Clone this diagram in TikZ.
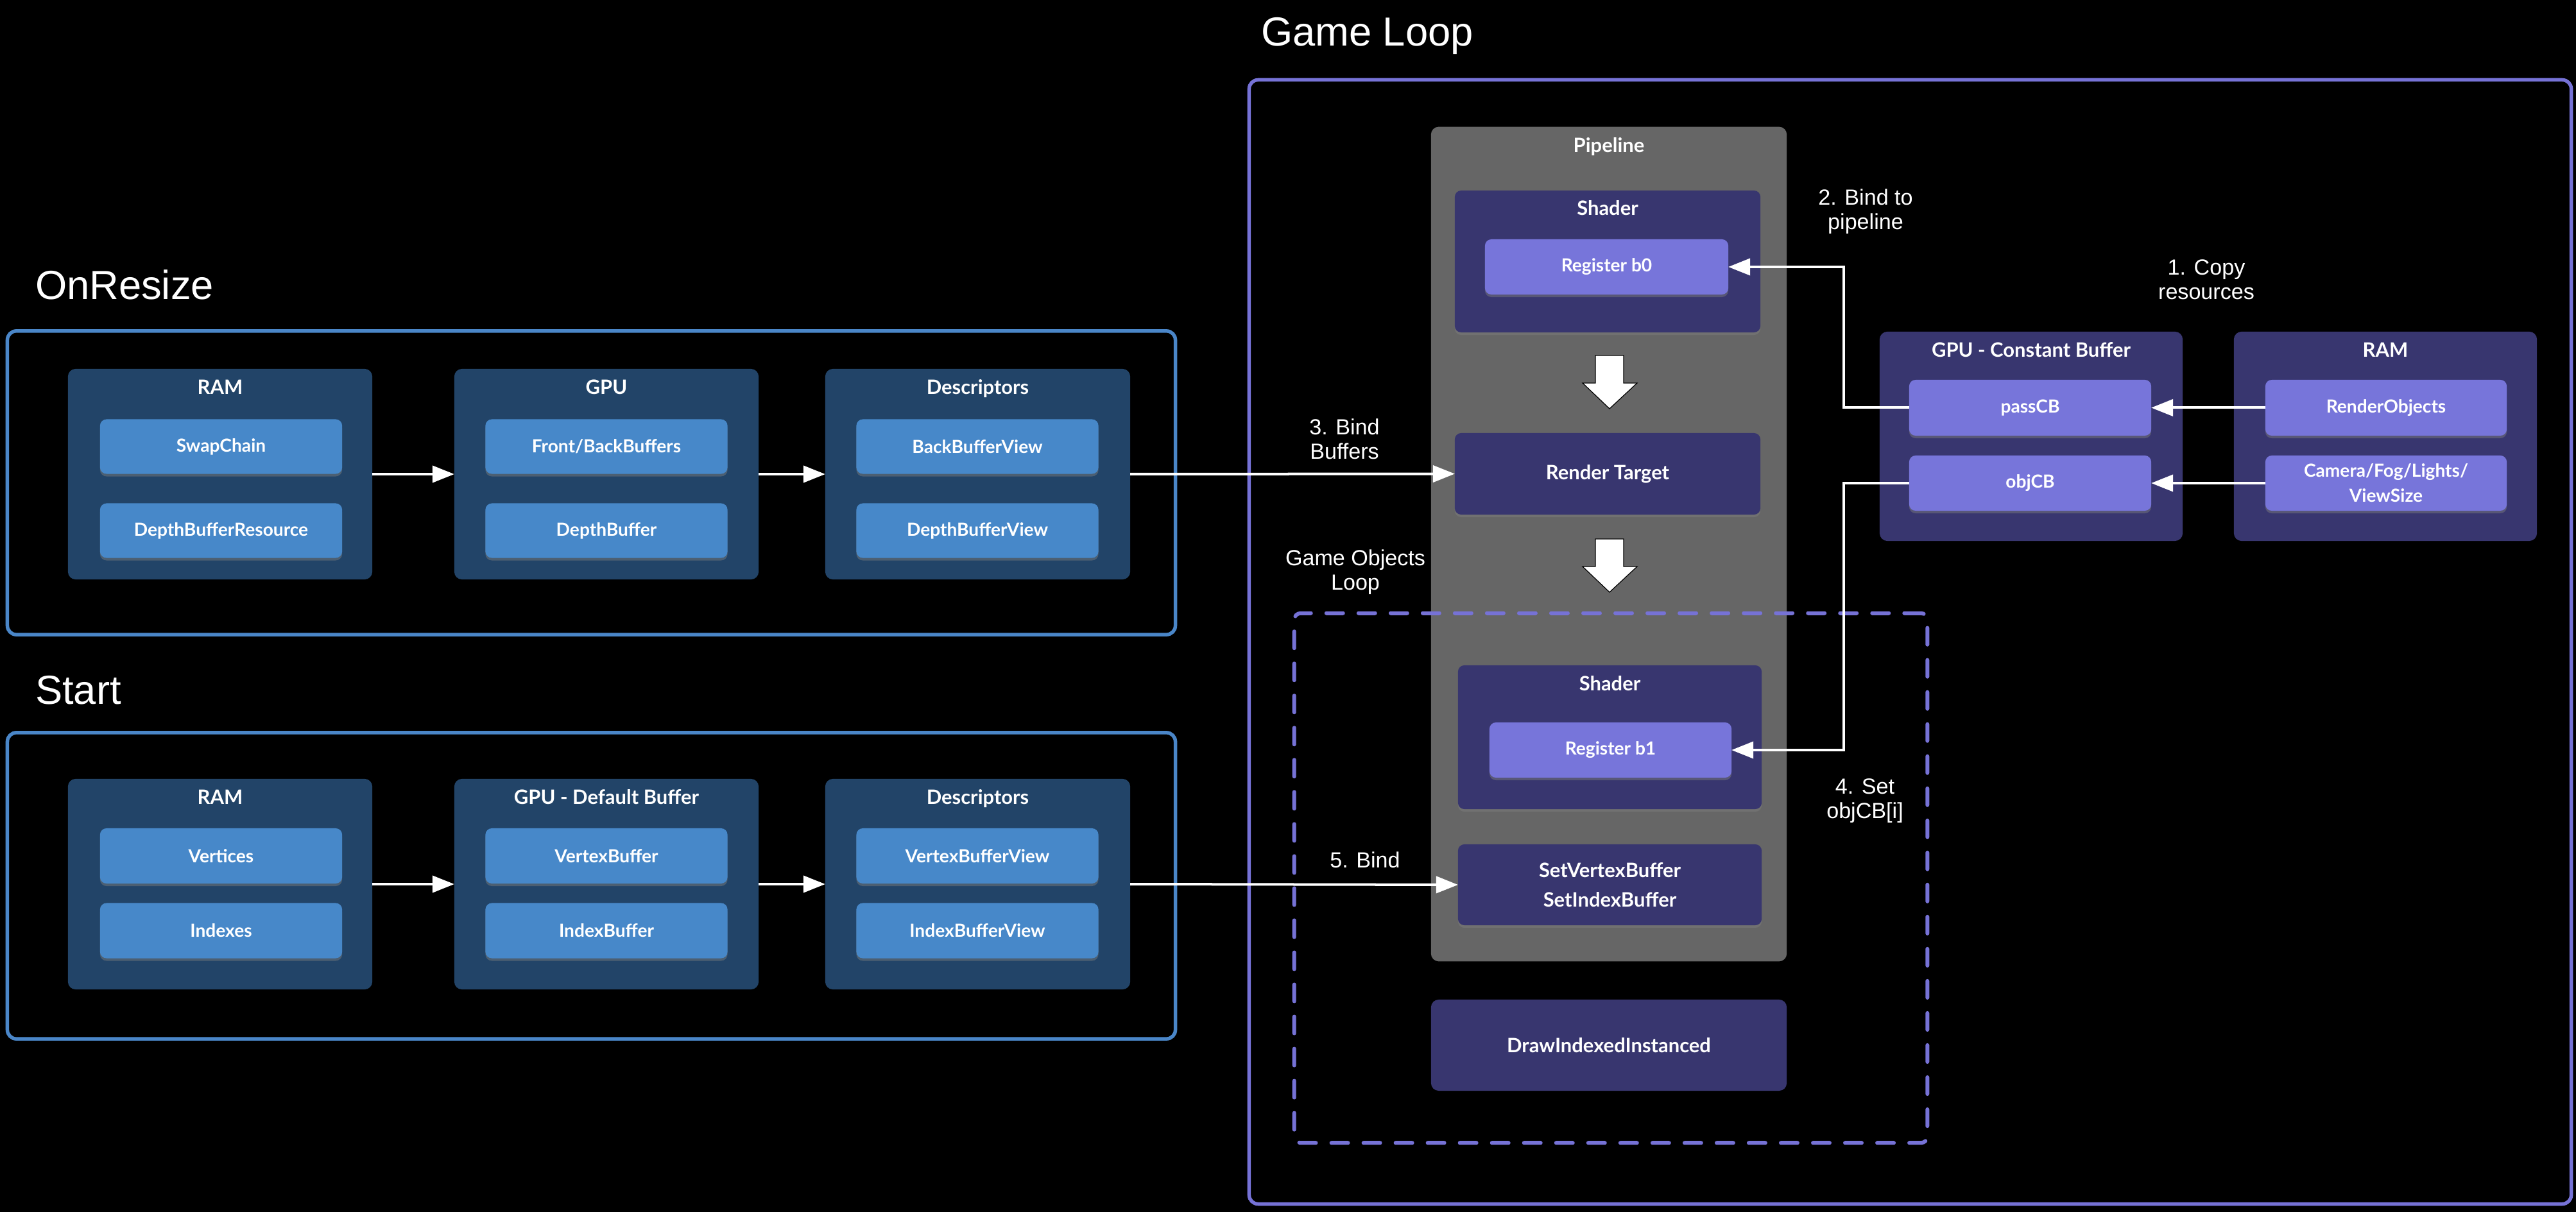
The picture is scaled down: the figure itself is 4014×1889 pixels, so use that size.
\documentclass[tikz,border=0pt]{standalone}
\usepackage{fontspec}
\setmainfont{Liberation Sans}
\newfontfamily\boxfont{Lato}
\usetikzlibrary{arrows.meta,shadows,calc}
\definecolor{bluegrp}{HTML}{224468}
\definecolor{bluebox}{HTML}{4788C9}
\definecolor{blueline}{HTML}{4A86C8}
\definecolor{purpline}{HTML}{7672D6}
\definecolor{purpgrp}{HTML}{38366F}
\definecolor{purpbox}{HTML}{7775DA}
\definecolor{pipegray}{HTML}{666666}
\begin{document}
\begin{tikzpicture}[x=0.01cm,y=-0.01cm,
  every node/.style={inner sep=0pt, outer sep=0pt, text=white},
  frame/.style={draw=#1, line width=0.055cm, rounded corners=0.14cm},
  grp/.style={fill=#1, rounded corners=0.12cm},
  ibox/.style={fill=#1, rounded corners=0.1cm,
    drop shadow={shadow xshift=0cm, shadow yshift=-0.04cm, opacity=0.45},
    font=\boxfont\bfseries\fontsize{8}{11}\selectfont, align=center},
  gtitle/.style={font=\boxfont\bfseries\fontsize{8.8}{10}\selectfont, anchor=base},
  bigtext/.style={font=\boxfont\bfseries\fontsize{8.8}{13}\selectfont},
  title/.style={font=\fontsize{18}{20}\selectfont, anchor=base west},
  lbl/.style={font=\fontsize{9.7}{10.8}\selectfont, align=center},
  conn/.style={draw=white, line width=0.04cm, -{Triangle[length=0.34cm,width=0.26cm]}},
  blockarrow/.style={fill=white, draw=black, line width=0.012cm},
]
\fill[black] (0,0) rectangle (4014,1889);
\useasboundingbox (0,0) rectangle (4014,1889);

% ---------------- OnResize
\node[title] (tOR) at (55,467) {OnResize};
\node[frame=blueline, minimum width=18.19cm, minimum height=4.73cm] (fOR) at (921.5,752.5) {};
\node[grp=bluegrp, minimum width=4.74cm, minimum height=3.28cm] (r1) at (343,739) {};
\node[grp=bluegrp, minimum width=4.74cm, minimum height=3.28cm] (g1) at (945,739) {};
\node[grp=bluegrp, minimum width=4.75cm, minimum height=3.28cm] (d1) at (1523.5,739) {};
\node[gtitle] (r1t) at (343,615) {RAM};
\node[gtitle] (g1t) at (945,615) {GPU};
\node[gtitle] (d1t) at (1523.5,615) {Descriptors};
\node[ibox=bluebox, minimum width=3.77cm, minimum height=0.85cm] (swap) at (344.5,696) {SwapChain};
\node[ibox=bluebox, minimum width=3.77cm, minimum height=0.85cm] (dbr) at (344.5,827) {DepthBufferResource};
\node[ibox=bluebox, minimum width=3.77cm, minimum height=0.85cm] (fbb) at (945,696) {Front/BackBuffers};
\node[ibox=bluebox, minimum width=3.77cm, minimum height=0.85cm] (db) at (945,827) {DepthBuffer};
\node[ibox=bluebox, minimum width=3.77cm, minimum height=0.85cm] (bbv) at (1523,696) {BackBufferView};
\node[ibox=bluebox, minimum width=3.77cm, minimum height=0.85cm] (dbv) at (1523,827) {DepthBufferView};

% ---------------- Start
\node[title] (tST) at (55,1098) {Start};
\node[frame=blueline, minimum width=18.19cm, minimum height=4.77cm] (fST) at (921.5,1380.5) {};
\node[grp=bluegrp, minimum width=4.74cm, minimum height=3.28cm] (r2) at (343,1378) {};
\node[grp=bluegrp, minimum width=4.74cm, minimum height=3.28cm] (g2) at (945,1378) {};
\node[grp=bluegrp, minimum width=4.75cm, minimum height=3.28cm] (d2) at (1523.5,1378) {};
\node[gtitle] (r2t) at (343,1254) {RAM};
\node[gtitle] (g2t) at (945,1254) {GPU - Default Buffer};
\node[gtitle] (d2t) at (1523.5,1254) {Descriptors};
\node[ibox=bluebox, minimum width=3.77cm, minimum height=0.86cm] (vert) at (344.5,1334) {Vertices};
\node[ibox=bluebox, minimum width=3.77cm, minimum height=0.86cm] (idx) at (344.5,1450.5) {Indexes};
\node[ibox=bluebox, minimum width=3.77cm, minimum height=0.86cm] (vb) at (945,1334) {VertexBuffer};
\node[ibox=bluebox, minimum width=3.77cm, minimum height=0.86cm] (ib) at (945,1450.5) {IndexBuffer};
\node[ibox=bluebox, minimum width=3.77cm, minimum height=0.86cm] (vbv) at (1523,1334) {VertexBufferView};
\node[ibox=bluebox, minimum width=3.77cm, minimum height=0.86cm] (ibv) at (1523,1450.5) {IndexBufferView};

% ---------------- Game Loop
\node[title] (tGL) at (1965,72) {Game Loop};
\node[frame=purpline, minimum width=20.59cm, minimum height=17.51cm] (fGL) at (2976.5,1000.5) {};
\node[grp=pipegray, minimum width=5.54cm, minimum height=13.00cm] (pipe) at (2507,848) {};
\node[gtitle] (pipet) at (2507,238) {Pipeline};
\node[ibox=purpgrp, minimum width=4.76cm, minimum height=2.21cm] (sh1) at (2505,407.5) {};
\node[gtitle] (sh1t) at (2505,336) {Shader};
\node[ibox=purpbox, minimum width=3.79cm, minimum height=0.86cm] (b0) at (2503.5,416) {Register b0};
\node[ibox=purpgrp, bigtext, minimum width=4.76cm, minimum height=1.27cm] (rt) at (2505,738.5) {Render Target};

\node[ibox=purpgrp, minimum width=4.73cm, minimum height=2.24cm] (sh2) at (2508.5,1149) {};
\node[gtitle] (sh2t) at (2508.5,1077) {Shader};
\node[ibox=purpbox, minimum width=3.77cm, minimum height=0.86cm] (b1) at (2509.5,1169) {Register b1};
\node[ibox=purpgrp, bigtext, align=center, minimum width=4.73cm, minimum height=1.26cm] (svb) at (2508.5,1379) {SetVertexBuffer\\SetIndexBuffer};
\node[grp=purpgrp, bigtext, minimum width=5.54cm, minimum height=1.42cm] (dii) at (2507,1629) {DrawIndexedInstanced};

\node[draw=purpline, line width=0.06cm, dash pattern=on 0.26cm off 0.24cm, line cap=round,
      rounded corners=0.1cm, minimum width=9.86cm, minimum height=8.25cm] (gol) at (2510,1368.5) {};

\node[grp=purpgrp, minimum width=4.72cm, minimum height=3.26cm] (gcb) at (3165,680) {};
\node[grp=purpgrp, minimum width=4.72cm, minimum height=3.26cm] (ram3) at (3717,680) {};
\node[gtitle] (gcbt) at (3165,557) {GPU - Constant Buffer};
\node[gtitle] (ram3t) at (3717,557) {RAM};
\node[ibox=purpbox, minimum width=3.77cm, minimum height=0.87cm] (pass) at (3163.5,635.5) {passCB};
\node[ibox=purpbox, minimum width=3.77cm, minimum height=0.86cm] (obj) at (3163.5,753) {objCB};
\node[ibox=purpbox, minimum width=3.76cm, minimum height=0.87cm] (ro) at (3718,635.5) {RenderObjects};
\node[ibox=purpbox, minimum width=3.76cm, minimum height=0.86cm] (cam) at (3718,753) {Camera/Fog/Lights/\\ViewSize};

% block arrows in the pipeline
\draw[blockarrow] (2486,554) -- (2530,554) -- (2530,597) -- (2551,597) -- (2508,637) -- (2466,597) -- (2486,597) -- cycle;
\draw[blockarrow] (2486,840) -- (2530,840) -- (2530,883) -- (2551,883) -- (2508,923) -- (2466,883) -- (2486,883) -- cycle;

% ---------------- connectors
\draw[conn] (r1.east) -- (g1.west);
\draw[conn] (g1.east) -- (d1.west);
\draw[conn] (d1.east) -- (rt.west);
\draw[conn] (r2.east) -- (g2.west);
\draw[conn] (g2.east) -- (d2.west);
\draw[conn] (d2.east) -- (svb.west);
\draw[conn] (ro.west) -- (pass.east);
\draw[conn] (cam.west) -- (obj.east);
\coordinate (jx) at (2873,0);
\draw[conn] (pass.west) -- (pass.west -| jx) |- (b0.east);
\draw[conn] (obj.west) -- (obj.west -| jx) |- (b1.east);

% ---------------- labels
\node[lbl] (l1) at (3438,436) {1. Copy\\resources};
\node[lbl] (l2) at (2907,330) {2. Bind to\\pipeline};
\node[lbl] (l3) at (2095,684) {3. Bind\\Buffers};
\node[lbl] (l4) at (2906,1248) {4. Set\\objCB[i]};
\node[lbl] (l5) at (2127,1340) {5. Bind};
\node[lbl] (l6) at (2112,892) {Game Objects\\Loop};
\end{tikzpicture}
\end{document}
